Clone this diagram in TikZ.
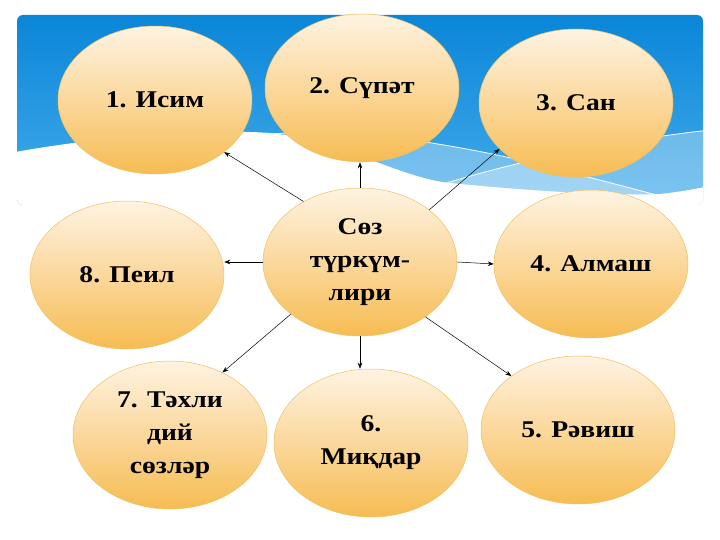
\documentclass[tikz,border=0pt]{standalone}
\usepackage{fontspec}
\setmainfont{Liberation Serif}[FakeStretch=1.15]
\usepackage{tikz}
\usetikzlibrary{shapes.geometric}
\usetikzlibrary{arrows.meta}
\definecolor{skytop}{HTML}{0A86D8}
\definecolor{skybot}{HTML}{45ACEB}
\definecolor{eggtop}{HTML}{FEF3E2}
\definecolor{eggmid}{HTML}{FBD89C}
\definecolor{eggbot}{HTML}{F6BC52}
\definecolor{eggline}{HTML}{F0C060}
\tikzset{
  klass/.style={ellipse, draw=eggline, line width=0.5pt, top color=eggtop, bottom color=eggbot, middle color=eggmid,
    minimum width=194pt, minimum height=148pt, inner sep=0pt, align=center,
    font=\fontsize{24}{33}\selectfont\bfseries},
  link/.style={-{Stealth[length=6pt,width=4.5pt]}, line width=0.5pt, black}
}
\newcommand{\klass}[4]{\node[klass] (#1) at ( #2 , #3 ) {#4};}

\begin{document}
\begin{tikzpicture}[x=1pt,y=-1pt]
        \useasboundingbox (0,0) rectangle (720,540);
        % sky
        \begin{scope}
        \clip[rounded corners=6pt] (17,15) rectangle (703,205);
        \shade[top color=skytop, bottom color=skybot] (17,15) rectangle (703,205);
        \fill[white, opacity=0.3] (230,140) .. controls (300,125) and (400,133) .. (520,160) .. controls (580,175) and (620,185) .. (660,196) -- (710,205) -- (210,205) -- cycle;
        \fill[white, opacity=0.3] (440,185) .. controls (520,160) and (620,140) .. (710,130) -- (710,205) -- (440,205) -- cycle;
        \draw[white, line width=0.8pt] (230,140) .. controls (300,125) and (400,133) .. (520,160) .. controls (580,175) and (620,185) .. (660,196);
        \draw[white, line width=0.8pt] (440,185) .. controls (520,160) and (620,140) .. (710,130);
        \fill[white] (10,153) .. controls (90,138) and (200,128) .. (270,133) .. controls (340,140) and (400,178) .. (450,183) .. controls (540,192) and (620,196) .. (660,194) .. controls (680,192) and (700,188) .. (710,186) -- (710,220) -- (10,220) -- cycle;
        \end{scope}

        % row 1
        \klass{n1}{155}{100}{1. Исим}
        \klass{n2}{362}{88}{2. Сүпәт}
        \klass{n3}{576}{103}{3. Сан}
        % row 2
        \klass{n8}{127}{275}{8. Пеил}
        \klass{c}{360}{262}{Сөз\\түркүм-\\лири}
        \klass{n4}{591}{264}{4. Алмаш}
        % row 3
        \klass{n7}{170}{435}{7. Тәхли\\дий\\сөзләр}
        \klass{n6}{371}{443}{6.\\Миқдар}
        \klass{n5}{578}{430}{5. Рәвиш}

        % links
        \draw[link] (c.133) -- (n1.-37);
        \draw[link] (c.north) -- (c.north |- n2.south);
        \draw[link] (c.37) -- (n3.-149);
        \draw[link] (c.west) -- (c.west -| n8.east);
        \draw[link] (c.east) -- (n4.west);
        \draw[link] (c.-143) -- (n7.50);
        \draw[link] (c.south) -- (c.south |- n6.north);
        \draw[link] (c.-40) -- (n5.141);
\end{tikzpicture}
\end{document}
